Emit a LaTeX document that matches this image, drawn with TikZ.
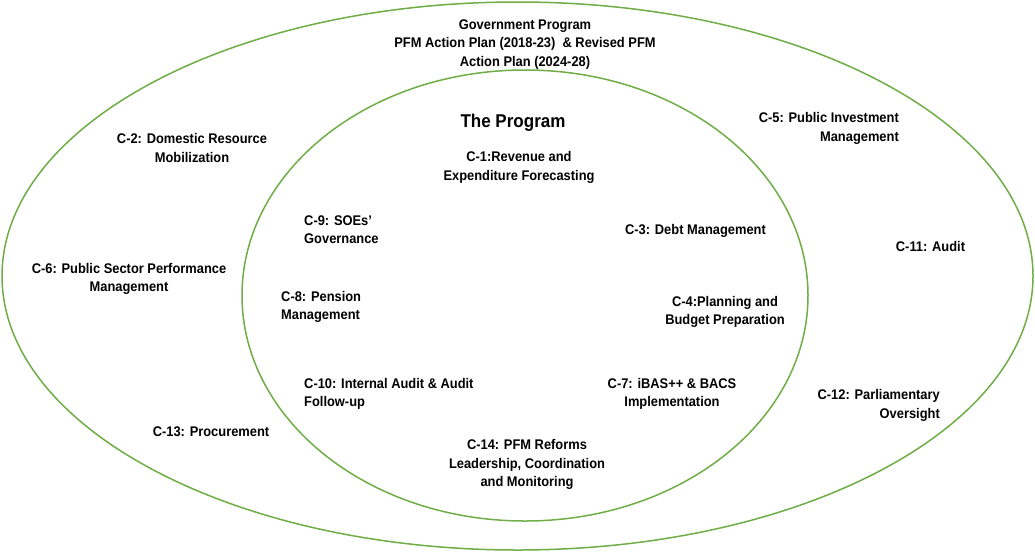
\documentclass[tikz,border=0pt]{standalone}
\usepackage{fontspec}
\usetikzlibrary{shapes.geometric}
\setmainfont{Liberation Sans}[FakeStretch=0.92]
\definecolor{ovalgreen}{RGB}{112,173,71}
\begin{document}
\begin{tikzpicture}[x=1pt,y=-1pt,
  oval/.style={ellipse,draw=ovalgreen,line width=1.5pt,inner sep=0pt},
  lbl/.style={inner sep=0pt,yshift=-1.5pt,font=\fontsize{14}{18.5}\selectfont\bfseries,text=black},
  title/.style={inner sep=0pt,yshift=-1.5pt,font=\fontsize{18.5}{22}\selectfont\bfseries,text=black}]
\useasboundingbox (0,0) rectangle (1035,552);
\fill[white] (0,0) rectangle (1035,552);
\node[oval,minimum width=1031pt,minimum height=548pt] (outer) at (517.5,276) {};
\node[oval,minimum width=566pt,minimum height=451pt] (inner) at (525,295.5) {};
\node[lbl,align=center] (gov) at (525,43) {Government Program\\PFM Action Plan (2018-23)\ \ \& Revised PFM\\Action Plan (2024-28)};
\node[title] (prog) at (513,121) {The Program};
\node[lbl,align=center] (c1) at (519,166) {C-1:Revenue and\\Expenditure Forecasting};
\node[lbl,align=center] (c2) at (192,146.5) {C-2: Domestic Resource\\Mobilization};
\node[lbl,align=right,anchor=east] (c5) at (899,127) {C-5: Public Investment\\Management};
\node[lbl,align=left,anchor=west] (c9) at (304,228) {C-9: SOEs'\\Governance};
\node[lbl] (c3) at (695.5,229) {C-3: Debt Management};
\node[lbl] (c11) at (930.5,245) {C-11: Audit};
\node[lbl,align=center] (c6) at (129,277.5) {C-6: Public Sector Performance\\Management};
\node[lbl,align=left,anchor=west] (c8) at (281,305.5) {C-8: Pension\\Management};
\node[lbl,align=center] (c4) at (725,310.5) {C-4:Planning and\\Budget Preparation};
\node[lbl,align=left,anchor=west] (c10) at (304,392.5) {C-10: Internal Audit \& Audit\\Follow-up};
\node[lbl,align=center] (c7) at (672,392.5) {C-7: iBAS++ \& BACS\\Implementation};
\node[lbl,align=right,anchor=east] (c12) at (940,404) {C-12: Parliamentary\\Oversight};
\node[lbl] (c13) at (211,430) {C-13: Procurement};
\node[lbl,align=center] (c14) at (527,463) {C-14: PFM Reforms\\Leadership, Coordination\\and Monitoring};
\end{tikzpicture}
\end{document}
